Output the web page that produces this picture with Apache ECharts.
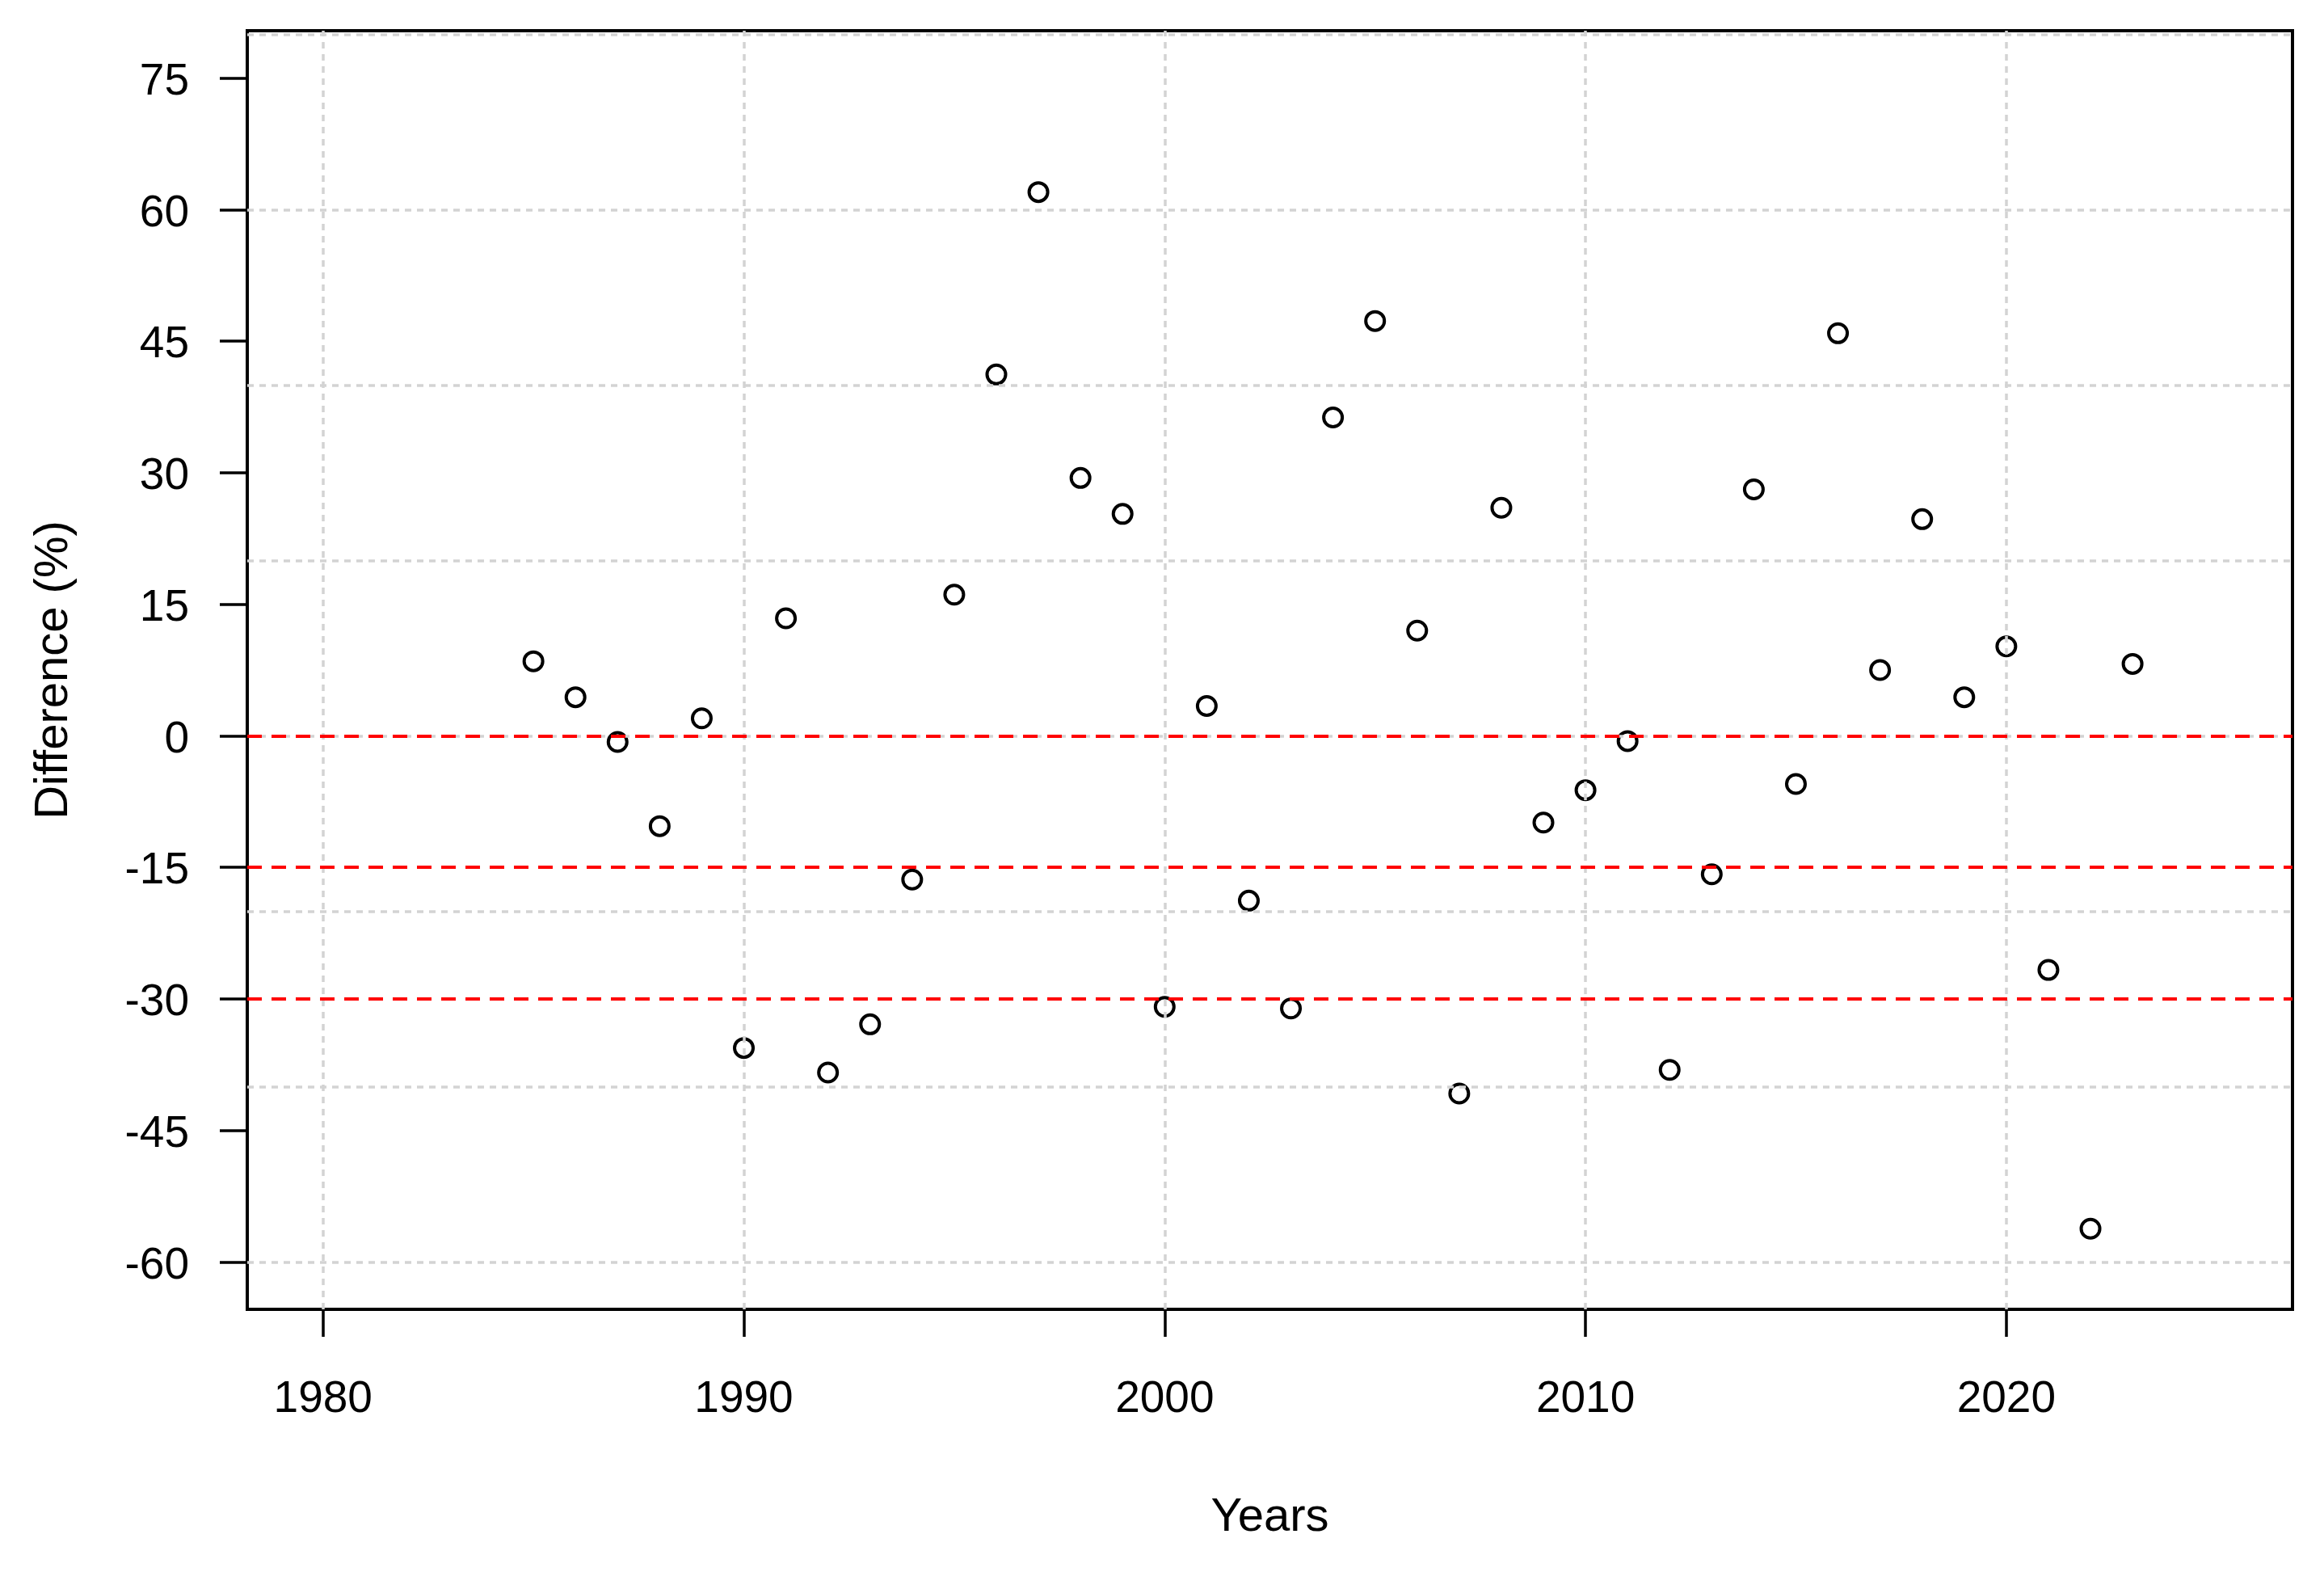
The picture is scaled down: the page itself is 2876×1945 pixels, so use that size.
<!DOCTYPE html>
<html>
<head>
<meta charset="utf-8">
<script src="https://cdn.jsdelivr.net/npm/echarts@6/dist/echarts.min.js"></script>
<style>
  html, body { margin: 0; padding: 0; background: #fff; }
  #chart { width: 2876px; height: 1945px; }
</style>
</head>
<body>
<div id="chart"></div>
<script>
// ---- data ----
const years = [1985, 1986, 1987, 1988, 1989, 1990, 1991, 1992, 1993, 1994, 1995, 1996, 1997, 1998, 1999,
  2000, 2001, 2002, 2003, 2004, 2005, 2006, 2007, 2008, 2009, 2010, 2011, 2012, 2013, 2014, 2015,
  2016, 2017, 2018, 2019, 2020, 2021, 2022, 2023];
const differences = [8.5, 4.4, -0.7, -10.3, 2.0, -35.6, 13.4, -38.4, -32.9, -16.4, 16.1, 41.2, 62.0, 29.4, 25.3,
  -30.9, 3.4, -18.8, -31.1, 36.3, 47.3, 12.0, -40.8, 26.0, -9.9, -6.2, -0.6, -38.1, -15.8, 28.1, -5.5,
  45.9, 7.5, 24.7, 4.4, 10.2, -26.7, -56.2, 8.2];
const xTickValues = [1980, 1990, 2000, 2010, 2020];
const yTickValues = [-60, -45, -30, -15, 0, 15, 30, 45, 60, 75];
const xGridValues = [1980, 1990, 2000, 2010, 2020];
const yGridValues = [-60, -40, -20, 0, 20, 40, 60, 80];
const referenceLines = [0, -15, -30];
const xRange = [1978.2, 2026.8];
const yRange = [-65.4, 80.4];

const FONT = '"Liberation Sans", Arial, sans-serif';
const chart = echarts.init(document.getElementById('chart'), null, { renderer: 'canvas' });

const gridLineStyle = { color: '#D3D3D3', width: 3.5, type: [8, 7] };

chart.setOption({
  animation: false,
  backgroundColor: '#ffffff',
  grid: {
    left: 306, right: 39, top: 38, bottom: 325,
    containLabel: false,
    show: true, borderColor: '#000', borderWidth: 4, backgroundColor: 'transparent'
  },
  xAxis: {
    type: 'value',
    min: xRange[0], max: xRange[1],
    name: 'Years',
    nameLocation: 'middle',
    nameGap: 229,
    nameTextStyle: { fontFamily: FONT, fontSize: 58, color: '#000' },
    axisLine: { show: true, onZero: false, lineStyle: { color: '#000', width: 4 } },
    axisTick: { show: true, length: 34, lineStyle: { color: '#000', width: 3.5 }, customValues: xTickValues },
    axisLabel: { show: true, customValues: xTickValues, fontFamily: FONT, fontSize: 55, color: '#000', margin: 84,
      formatter: v => String(v) },
    splitLine: { show: false }
  },
  yAxis: {
    type: 'value',
    min: yRange[0], max: yRange[1],
    name: 'Difference (%)',
    nameLocation: 'middle',
    nameGap: 210,
    nameTextStyle: { fontFamily: FONT, fontSize: 58, color: '#000' },
    axisLine: { show: true, onZero: false, lineStyle: { color: '#000', width: 4 } },
    axisTick: { show: true, length: 34, lineStyle: { color: '#000', width: 3.5 }, customValues: yTickValues },
    axisLabel: { show: true, customValues: yTickValues, fontFamily: FONT, fontSize: 55, color: '#000', margin: 72,
      verticalAlign: 'top', lineHeight: 10,
      formatter: v => String(v) },
    splitLine: { show: false }
  },
  series: [
    {
      type: 'scatter',
      z: 2,
      data: years.map((y, i) => [y, differences[i]]),
      symbol: 'circle',
      symbolSize: 23,
      itemStyle: { color: 'rgba(0,0,0,0)', borderColor: '#000', borderWidth: 4, opacity: 1 },
      silent: true
    },
    {
      type: 'scatter',
      name: 'grid',
      data: [],
      z: 3,
      markLine: {
        silent: true, symbol: ['none', 'none'], z: 3,
        label: { show: false },
        lineStyle: gridLineStyle,
        emphasis: { disabled: true },
        data: yGridValues.map(v => ({ yAxis: v })).concat(xGridValues.map(v => ({ xAxis: v })))
      }
    },
    {
      type: 'scatter',
      name: 'ref',
      data: [],
      z: 4,
      markLine: {
        silent: true, symbol: ['none', 'none'], z: 4,
        label: { show: false },
        lineStyle: { color: '#FF0000', width: 4, type: [18, 12] },
        emphasis: { disabled: true },
        data: referenceLines.map(v => ({ yAxis: v }))
      }
    }
  ]
});
</script>
</body>
</html>
